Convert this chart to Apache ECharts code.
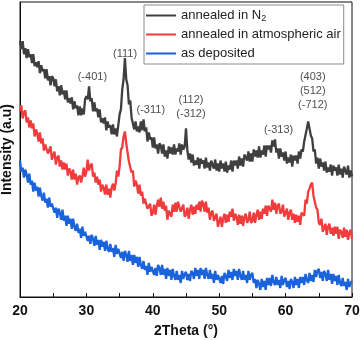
<!DOCTYPE html>
<html>
<head>
<meta charset="utf-8">
<script src="https://cdn.jsdelivr.net/npm/echarts@6/dist/echarts.min.js"></script>
<style>html,body{margin:0;padding:0;background:#fff}#c{width:360px;height:340px}</style>
</head>
<body>
<div id="c"></div>
<script>
// 2Theta sampling: start 20°, step 0.2°
const thetaStart = 20;
const thetaStep = 0.2;
const xTicks = [20, 30, 40, 50, 60, 70];
const seriesNames = ['annealed in N2', 'annealed in atmospheric air', 'as deposited'];

const annealedN2 = [
255,247,255,242,248, 238,247,239,242,233, 242,230,234,229,235, 223,231,225,227,218,
227,216,220,211,220, 218,210,217,205,210, 201,211,202,206,197, 206,194,198,193,199,
187,195,188,191,181, 190,181,188,182,197, 200,197,210,195,198, 185,194,185,188,179,
187,174,178,173,179, 166,175,169,171,162, 172,162,168,160,171, 182,187,207,217,238,
217,211,192,196,179, 178,167,175,165,170, 164,175,166,177,165, 169,155,164,157,159,
149,159,148,152,143, 153,151,143,152,140, 146,138,150,143,149, 142,152,142,148,145,
153,142,152,147,150, 168,146,137,143,134, 142,131,136,132,139, 128,138,133,136,128,
139,129,134,126,136, 135,128,137,126,133, 125,136,128,133,125, 135,124,131,127,136,
125,136,131,136,128, 140,131,138,130,142, 142,136,145,135,143, 135,147,140,146,139,
150,139,146,142,151, 140,151,147,151,144, 156,150,157,144,148, 138,148,140,144,136,
145,133,139,134,142, 130,141,136,141,133, 145,138,147,145,155, 156,168,175,176,161,
158,145,147,133,139, 128,138,130,134,126, 135,124,129,125,132, 121,131,126,129,121,
132,122,128,119,130, 129,122,131,119,126, 120
];

const annealedAir = [
185,191,178,184,186, 174,179,169,176,168, 173,160,167,163,155, 164,153,158,146,152,
153,143,144,150,137, 138,145,132,139,141, 130,136,127,134,127, 133,121,128,125,117,
127,117,123,112,119, 121,114,120,129,120, 125,137,126,131,133, 120,124,114,120,112,
117,105,112,109,102, 112,102,108,99,109, 113,106,113,126,120, 130,147,149,160,165,
153,152,135,136,124, 126,110,116,112,103, 112,101,105,93,98, 99,88,88,93,81,
84,92,82,91,97, 90,99,88,95,86, 91,77,86,85,80, 92,85,94,85,95,
96,85,86,92,80, 82,89,78,87,92, 82,90,83,92,87, 95,85,96,93,85,
95,84,89,77,84, 86,76,77,83,70, 71,80,70,78,83, 74,82,75,85,80,
88,76,83,80,72, 82,73,81,71,80, 83,74,77,85,74, 76,84,74,82,87,
77,85,78,88,83, 91,81,91,90,85, 97,87,94,83,91, 93,83,85,92,80,
81,88,77,84,87, 77,83,74,82,75, 81,72,84,84,81, 97,93,105,108,112,
114,101,101,89,87, 74,72,78,65,66, 73,62,70,73,63, 69,61,70,63,70,
58,67,65,59,69, 60,67,57,64,67, 58
];

const asDeposited = [
136,125,129,119,127, 122,114,123,112,116, 105,114,106,110,100, 109,101,96,104,94,
98,89,99,90,93, 94,84,89,79,88, 84,77,87,76,81, 71,81,73,78,68,
78,70,66,73,64, 68,59,70,61,65, 66,56,61,53,62, 58,51,61,52,57,
47,57,50,55,46, 56,48,45,53,45, 49,40,52,43,48, 49,39,45,36,46,
42,35,46,36,42, 32,42,34,40,30, 40,32,28,36,27, 31,22,34,25,30,
31,22,29,21,32, 29,22,32,22,28, 18,29,21,27,17, 28,21,17,26,17,
22,14,26,18,23, 25,17,23,16,26, 24,18,29,21,27, 18,29,22,27,18,
29,22,18,27,18, 23,14,26,17,22, 23,14,21,13,24, 21,16,27,19,25,
17,28,21,26,17, 28,21,17,26,17, 22,14,26,17,22, 24,14,18,9,17,
13,7,18,10,16, 7,19,12,19,11, 22,15,12,20,12, 17,9,21,12,17,
19,10,16,8,18, 15,9,20,12,18, 9,20,14,20,12, 23,17,14,24,16,
22,15,27,20,26, 28,19,25,16,26, 23,16,27,17,23, 13,23,16,21,12,
22,14,11,19,11, 15,7,18,10,14, 16
];

const peakLabels = ['(-401)', '(111)', '(-311)', '(112)\n(-312)', '(-313)', '(403)\n(512)\n(-712)'];
const peakTheta = [30.9, 35.83, 39.7, 45.75, 58.94, 64.09];
const peakLevel = [219, 242, 186, 189, 166, 205];

function toPairs(arr) {
  return arr.map((v, i) => [+(thetaStart + i * thetaStep).toFixed(2), v]);
}

const colors = ['#3f3f3f', '#f23b3d', '#1b63db'];
const FONT = 'Liberation Sans, Arial, sans-serif';
const LW = 2.3;

const chart = echarts.init(document.getElementById('c'), null, {renderer: 'canvas'});
chart.setOption({
  animation: false,
  backgroundColor: '#fff',
  grid: {left: 20, right: 8, top: 2, bottom: 43, containLabel: false, outerBoundsMode: 'none',
    show: true, borderColor: '#111', borderWidth: 1, backgroundColor: 'transparent'},
  xAxis: {
    type: 'value', min: 20, max: 70, interval: 5,
    name: '2Theta (°)', nameLocation: 'middle', nameGap: 27,
    nameTextStyle: {fontFamily: FONT, fontSize: 14, fontWeight: 'bold', color: '#111'},
    axisLine: {lineStyle: {color: '#111', width: 1}},
    axisTick: {inside: true, length: 4, lineStyle: {color: '#111'}},
    axisLabel: {fontFamily: FONT, fontSize: 14, fontWeight: 'bold', color: '#111', margin: 7,
      formatter: v => xTicks.indexOf(v) >= 0 ? String(v) : ''},
    splitLine: {show: false}
  },
  yAxis: {
    type: 'value', min: 0, max: 294,
    name: 'Intensity (a.u)', nameLocation: 'middle', nameGap: 6,
    nameTextStyle: {fontFamily: FONT, fontSize: 14, fontWeight: 'bold', color: '#111'},
    axisLine: {show: true, lineStyle: {color: '#111', width: 1}},
    axisTick: {show: false}, axisLabel: {show: false}, splitLine: {show: false}
  },
  legend: {
    orient: 'vertical', left: 144, top: 5,
    data: seriesNames,
    icon: 'rect', itemWidth: 30, itemHeight: 2, itemGap: 4,
    padding: [3, 3, 3, 2],
    borderColor: '#8a8a8a', borderWidth: 1, backgroundColor: '#fff',
    textStyle: {fontFamily: FONT, fontSize: 13, color: '#222', lineHeight: 15,
      rich: {sub: {fontFamily: FONT, fontSize: 9, color: '#222', verticalAlign: 'bottom', lineHeight: 15, padding: [6, 0, 0, 0]}}},
    formatter: n => n.replace('N2', 'N{sub|2}')
  },
  series: [
    {name: seriesNames[0], type: 'line', data: toPairs(annealedN2), symbol: 'none',
      lineStyle: {color: colors[0], width: LW}, itemStyle: {color: colors[0]}, z: 3},
    {name: seriesNames[1], type: 'line', data: toPairs(annealedAir), symbol: 'none',
      lineStyle: {color: colors[1], width: LW}, itemStyle: {color: colors[1]}, z: 2},
    {name: seriesNames[2], type: 'line', data: toPairs(asDeposited), symbol: 'none',
      lineStyle: {color: colors[2], width: LW}, itemStyle: {color: colors[2]}, z: 2},
    {type: 'scatter', silent: true, symbolSize: 0, z: 5,
      data: peakLabels.map((t, i) => ({value: [peakTheta[i], peakLevel[i]], label: {formatter: t}})),
      label: {show: true, position: 'inside', fontFamily: FONT, fontSize: 11, color: '#222', lineHeight: 14, align: 'center'}}
  ]
});
</script>
</body>
</html>
